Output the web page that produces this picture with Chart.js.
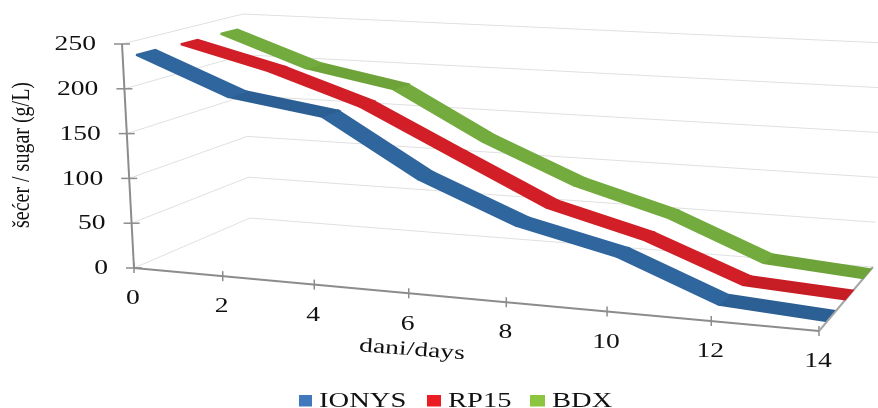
<!DOCTYPE html>
<html lang="en">
<head>
    <meta charset="UTF-8">
    <title>secer</title>
    <script src="https://cdn.jsdelivr.net/npm/chart.js"></script>
    <style>
        html,body{margin:0;padding:0;background:#fff;}
        canvas{display:block;}
    </style>
</head>
<body>
    <canvas id="myChart" width="878" height="408"></canvas>

    <script>
        //values
        const days = [0,2,4,6,8,10,12,14];
        const ionys = [234,193,178,117,75,51,10,3];
        const rp15 = [233,207,173,123,74,47,7,1];
        const bdx = [233,197,178,123,80,51,9,1];
        const valueTicks = [0,50,100,150,200,250];
        const seriesNames = ['IONYS','RP15','BDX'];

        //3D box of the chart, corners in canvas pixels
        const FL0=[134,268], FL1=[122,44], BL0=[250,218], BL1=[243,14];
        const FR0=[819,331], FR1=[832,85], BR0=[873,267], BR1=[885,43];
        const dayMax = 14, valueMax = 250, persp = 1.12;

        const lerp = (a,b,t)=>[a[0]+(b[0]-a[0])*t, a[1]+(b[1]-a[1])*t];

        //day, value, depth(0 front..1 back) -> canvas point
        const project = (d,v,w)=>{
            const u = d/dayMax;
            const t = u/(u+(1-u)*persp);
            const n = v/valueMax;
            const left = lerp(lerp(FL0,FL1,n),lerp(BL0,BL1,n),w);
            const right = lerp(lerp(FR0,FR1,n),lerp(BR0,BR1,n),w);
            const p = lerp(left,right,t);
            return {x:p[0],y:p[1]};
        };

        //one closed quad per stretch of the ribbon, flat stretches are a bit darker
        const ribbon = (name,values,w0,w1,color,dark)=>days.slice(1).map((d,i)=>{
            const a = days[i], va = values[i], vb = values[i+1];
            const c = (va-vb)<=20 ? dark : color;
            return {
                label:name+' '+a+'-'+d,
                data:[project(a,va,w0),project(d,vb,w0),project(d,vb,w1),project(a,va,w1),project(a,va,w0)],
                showLine:true,borderColor:c,backgroundColor:c,borderWidth:2,pointRadius:0,fill:'shape'
            };
        });

        const gridColor = '#e0e0e0';
        const axisColor = '#8c8c8c';

        const gridSets = valueTicks.map((v)=>({
            label:'grid '+v,
            data:[project(0,v,0),project(0,v,1),project(dayMax,v,1)],
            showLine:true,borderColor:gridColor,borderWidth:1,pointRadius:0,fill:false
        }));

        const axisSets = [
            {label:'y axis',data:[project(0,0,0),project(0,valueMax,0)],showLine:true,borderColor:axisColor,borderWidth:2,pointRadius:0},
            {label:'x axis',data:[project(0,0,0),project(dayMax,0,0)],showLine:true,borderColor:axisColor,borderWidth:2,pointRadius:0},
            {label:'z axis',data:[project(dayMax,0,0),project(dayMax,0,1)],showLine:true,borderColor:'#a6a6a6',borderWidth:2,pointRadius:0},
            {label:'y ticks',data:valueTicks.map((v)=>project(0,v,0)),showLine:false,pointStyle:'line',pointRadius:8,pointBorderColor:axisColor,pointBorderWidth:1.5},
            {label:'x ticks',data:days.map((d)=>project(d,0,0)),showLine:false,pointStyle:'line',pointRotation:90,pointRadius:5,pointBorderColor:axisColor,pointBorderWidth:1.5}
        ];

        //stretched serif text, the original picture is wider than tall
        const putText = (ctx,str,x,y,opt={})=>{
            ctx.save();
            ctx.translate(x,y);
            if(opt.rot) ctx.rotate(opt.rot);
            ctx.scale(opt.sx||1.38,opt.sy||1);
            ctx.font = (opt.size||20)+'px "Liberation Serif"';
            ctx.fillStyle = '#111';
            ctx.textAlign = opt.align||'center';
            ctx.textBaseline = opt.base||'middle';
            ctx.fillText(str,0,0);
            ctx.restore();
        };

        const legendItems = [
            {name:seriesNames[0],color:'#4279bd',box:299,w:13,text:319},
            {name:seriesNames[1],color:'#ec1c24',box:427,w:14,text:448},
            {name:seriesNames[2],color:'#8cc63f',box:530,w:15,text:552}
        ];

        const labelsPlugin = {
            id:'labelsPlugin',
            afterDraw(chart){
                const ctx = chart.ctx;
                valueTicks.forEach((v)=>{
                    const p = project(0,v,0);
                    putText(ctx,String(v),p.x-26,p.y+1,{align:'right'});
                });
                days.forEach((d)=>{
                    const p = project(d,0,0);
                    putText(ctx,String(d),p.x-1,p.y+31);
                });
                putText(ctx,'šećer / sugar (g/L)',22,155,{rot:-Math.PI/2,sx:1,sy:1.3,size:20});
                putText(ctx,'dani/days',412,350,{rot:0.075,size:20});
                legendItems.forEach((it)=>{
                    ctx.fillStyle = it.color;
                    ctx.fillRect(it.box,395,it.w,11.5);
                    putText(ctx,it.name,it.text,407,{align:'left',base:'alphabetic',size:21,sx:1.36});
                });
            }
        };

        const drawChart = ()=>{
            const data = {
                datasets:[
                    ...ribbon(seriesNames[0],ionys,0.11,0.27,'#30669e','#2c5f93'),
                    ...ribbon(seriesNames[1],rp15,0.48,0.62,'#d21f27','#c71d24'),
                    ...ribbon(seriesNames[2],bdx,0.81,0.95,'#73ab3e','#6ea33a'),
                    ...axisSets,
                    ...gridSets
                ]
            };

            const options = {
                responsive:false,
                animation:false,
                layout:{padding:0,autoPadding:false},
                scales:{
                    x:{type:'linear',min:0,max:878,display:false},
                    y:{type:'linear',min:0,max:408,reverse:true,display:false}
                },
                plugins:{
                    legend:{display:false},
                    tooltip:{enabled:false}
                }
            };

            const ctx = document.querySelector('#myChart').getContext('2d');
            new Chart(ctx,{type:'scatter',data:data,options:options,plugins:[labelsPlugin]});
        };
        drawChart();
    </script>
</body>
</html>
